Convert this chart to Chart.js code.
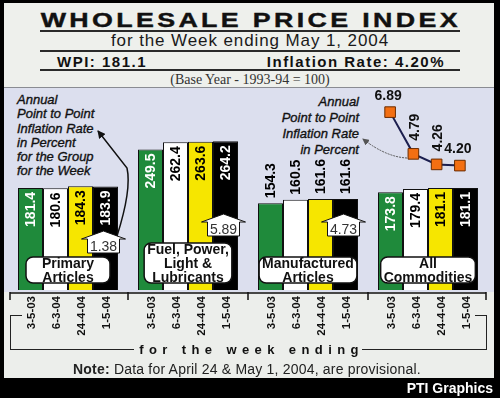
<!DOCTYPE html>
<html>
<head>
<meta charset="utf-8">
<script src="https://cdn.jsdelivr.net/npm/chart.js@4.4.1/dist/chart.umd.min.js"></script>
<style>
  body { margin: 0; width: 500px; height: 398px; background: #000; position: relative; overflow: hidden;
         font-family: "Liberation Sans", Arial, sans-serif; color: #111; }
  .abs { position: absolute; }
  #head { left: 4px; top: 3px; width: 490px; height: 84px; background: #eef0ec; border-bottom: 1px solid #8a8c92; }
  #plot { left: 4px; top: 88px; width: 490px; height: 204px; background: #dcdfee; }
  #foot { left: 4px; top: 292px; width: 490px; height: 86px; background: #eceeeb; }
  .rule { position: absolute; left: 40px; width: 420px; height: 2px; background: #2a2a2a; }
  .brk { position: absolute; border: 0 solid #222; }
  .note { font-style: italic; font-size: 13px; color: #111; -webkit-text-stroke: 0.35px #111; }
</style>
</head>
<body>
<div class="abs" id="head"></div>
<div class="abs" id="plot"></div>
<div class="abs" id="foot"></div>

<div class="abs" style="left:0;top:8px;width:500px;text-align:center;font-weight:bold;font-size:20px;line-height:24px;color:#111">
  <span style="display:inline-block;letter-spacing:2.5px;margin-right:-2.5px;transform:scaleX(1.34);-webkit-text-stroke:0.4px #111">WHOLESALE PRICE INDEX</span>
</div>
<div class="rule" style="top:30px"></div>
<div class="abs" style="left:0;top:31px;width:500px;text-align:center;font-size:17px;line-height:20px;letter-spacing:0.9px;color:#1a1a1a">for the Week ending May 1, 2004</div>
<div class="rule" style="top:50px"></div>
<div class="abs" style="left:57px;top:52px;font-weight:bold;font-size:15px;line-height:20px;letter-spacing:1.5px">WPI: 181.1</div>
<div class="abs" style="right:55px;top:52px;font-weight:bold;font-size:15px;line-height:20px;letter-spacing:1.5px">Inflation Rate: 4.20%</div>
<div class="rule" style="top:69px"></div>
<div class="abs" style="left:0;top:72px;width:500px;text-align:center;font-family:'Liberation Serif',serif;font-size:14px;line-height:16px;color:#333">(Base Year - 1993-94 = 100)</div>

<div class="abs note" style="left:17px;top:93px;line-height:14.3px">Annual<br>Point to Point<br>Inflation Rate<br>in Percent<br>for the Group<br>for the Week</div>
<div class="abs note" style="right:141px;top:94px;text-align:right;line-height:16px">Annual<br>Point to Point<br>Inflation Rate<br>in Percent</div>

<canvas id="bars" class="abs" width="500" height="252" style="left:0;top:88px"></canvas>
<canvas id="trend" class="abs" width="110" height="100" style="left:370px;top:88px"></canvas>

<div class="brk" style="left:10px;top:315px;width:12px;height:0;border-top-width:1.5px"></div>
<div class="brk" style="left:10px;top:315px;width:123px;height:34px;border-left-width:1.5px;border-bottom-width:1.5px"></div>
<div class="brk" style="left:362px;top:315px;width:124px;height:34px;border-right-width:1.5px;border-bottom-width:1.5px"></div>
<div class="brk" style="left:475px;top:315px;width:12px;height:0;border-top-width:1.5px"></div>
<div class="abs" style="left:0;top:341px;width:500px;text-align:center;font-weight:bold;font-size:13px;line-height:18px;letter-spacing:5.4px;padding-left:3px;box-sizing:border-box">for the week ending</div>
<div class="abs" style="left:0;top:360px;width:494px;text-align:center;font-size:14px;line-height:18px;letter-spacing:0.2px;color:#222"><b>Note:</b> Data for April 24 &amp; May 1, 2004, are provisional.</div>
<div class="abs" style="right:7px;top:380px;font-weight:bold;font-size:14px;line-height:17px;color:#fff">PTI Graphics</div>

<svg class="abs" width="500" height="398" style="left:0;top:0;pointer-events:none">
  <defs>
    <marker id="ah" markerWidth="8" markerHeight="8" refX="7" refY="4" orient="auto" markerUnits="userSpaceOnUse">
      <path d="M0,0 L8,4 L0,8 z" fill="#111"/>
    </marker>
    <marker id="ah2" markerWidth="7" markerHeight="7" refX="6" refY="3.5" orient="auto" markerUnits="userSpaceOnUse">
      <path d="M0,0 L7,3.5 L0,7 z" fill="#555"/>
    </marker>
  </defs>
  <path d="M117,236 C124,214 131,186 127,168 L98,131" fill="none" stroke="#111" stroke-width="1.5" marker-end="url(#ah)"/>
  <path d="M407,158 Q386,157 363,139" fill="none" stroke="#555" stroke-width="1" stroke-dasharray="2,1" marker-end="url(#ah2)"/>
</svg>

<script>
// groups and weeks
const groupNames = [['Primary', 'Articles'], ['Fuel, Power,', 'Light &', 'Lubricants'], ['Manufactured', 'Articles'], ['All', 'Commodities']];
const weekLabels = ['3-5-03', '6-3-04', '24-4-04', '1-5-04'];

// WPI for each week, by group
const wpiWeek1 = [181.4, 249.5, 154.3, 173.8];
const wpiWeek2 = [180.6, 262.4, 160.5, 179.4];
const wpiWeek3 = [184.3, 263.6, 161.6, 181.1];
const wpiWeek4 = [183.9, 264.2, 161.6, 181.1];

// inflation rates
const groupInflation = [1.38, 5.89, 4.73];
const allInflation = [6.89, 4.79, 4.26, 4.20];

// styling
const barColors = ['#1f8a3b', '#ffffff', '#f6e600', '#000000'];
const valueColors = ['#ffffff', '#000000', '#000000', '#ffffff'];
const inflBoxLift = [44, 61, 61];
const trendRot = [0, -90, -90, 0];
const FONT = '"Liberation Sans", Arial, sans-serif';

function roundRect(ctx, x, y, w, h, r) {
    ctx.beginPath();
    ctx.moveTo(x + r, y);
    ctx.arcTo(x + w, y, x + w, y + h, r);
    ctx.arcTo(x + w, y + h, x, y + h, r);
    ctx.arcTo(x, y + h, x, y, r);
    ctx.arcTo(x, y, x + w, y, r);
    ctx.closePath();
}

const barDecor = {
    id: 'barDecor',
    afterDatasetsDraw(chart) {
        const ctx = chart.ctx;
        const area = chart.chartArea;
        const base = area.bottom;
        const xs = chart.scales.x;
        const half = (area.right - area.left) / groupNames.length / 2;

        // values on the bars
        chart.data.datasets.forEach(function (ds, i) {
            const meta = chart.getDatasetMeta(i);
            meta.data.forEach(function (bar, j) {
                const inside = base - bar.y > 95;
                ctx.save();
                ctx.translate(bar.x, inside ? bar.y + 4 : bar.y - 5);
                ctx.rotate(-Math.PI / 2);
                ctx.font = 'bold 14px ' + FONT;
                ctx.fillStyle = inside ? valueColors[i] : '#000';
                ctx.textBaseline = 'middle';
                ctx.textAlign = inside ? 'right' : 'left';
                ctx.fillText(ds.data[j].toFixed(1), 0, 1);
                ctx.restore();

                // week dates under each bar
                ctx.save();
                ctx.translate(bar.x, base + 6);
                ctx.rotate(-Math.PI / 2);
                ctx.font = 'bold 11.5px ' + FONT;
                ctx.fillStyle = '#111';
                ctx.textBaseline = 'middle';
                ctx.textAlign = 'right';
                ctx.fillText(weekLabels[i], 0, 1);
                ctx.restore();
            });
        });

        // inflation arrow boxes
        const black = chart.getDatasetMeta(3).data;
        groupInflation.forEach(function (v, j) {
            const cx = black[j].x - 2;
            const cy = base - inflBoxLift[j];
            const top = cy - 7, bot = cy + 7;
            ctx.save();
            ctx.beginPath();
            ctx.moveTo(cx - 16, bot);
            ctx.lineTo(cx - 16, top);
            ctx.lineTo(cx - 22, top);
            ctx.lineTo(cx, top - 8);
            ctx.lineTo(cx + 22, top);
            ctx.lineTo(cx + 16, top);
            ctx.lineTo(cx + 16, bot);
            ctx.closePath();
            ctx.fillStyle = '#fff';
            ctx.fill();
            ctx.strokeStyle = '#111';
            ctx.lineWidth = 1;
            ctx.stroke();
            ctx.font = '14px ' + FONT;
            ctx.fillStyle = '#333';
            ctx.textAlign = 'center';
            ctx.textBaseline = 'middle';
            ctx.fillText(v.toFixed(2), cx, cy + 1);
            ctx.restore();
        });

        // group name boxes
        groupNames.forEach(function (lines, j) {
            const cx = xs.getPixelForValue(j);
            ctx.save();
            ctx.font = 'bold 14px ' + FONT;
            let tw = 0;
            lines.forEach(function (l) { tw = Math.max(tw, ctx.measureText(l).width); });
            const w = Math.max(84, tw + 6);
            const h = lines.length * 14 - 2;
            const bot = base - 7;
            roundRect(ctx, cx - w / 2, bot - h, w, h, 7);
            ctx.fillStyle = '#fff';
            ctx.fill();
            ctx.strokeStyle = '#111';
            ctx.lineWidth = 1.5;
            ctx.stroke();
            ctx.fillStyle = '#111';
            ctx.textAlign = 'center';
            ctx.textBaseline = 'middle';
            lines.forEach(function (l, k) {
                ctx.fillText(l, cx, bot - h + 6 + k * 14 + 1);
            });
            ctx.restore();
        });

        // axis line with group ticks
        ctx.save();
        ctx.strokeStyle = '#111';
        ctx.lineWidth = 1.5;
        ctx.beginPath();
        ctx.moveTo(area.left + 2, base + 3);
        ctx.lineTo(area.right - 2, base + 3);
        for (let j = 0; j <= groupNames.length; j++) {
            let tx = area.left + j * 2 * half;
            if (j === 0) tx += 2;
            if (j === groupNames.length) tx -= 2;
            ctx.moveTo(tx, base + 2);
            ctx.lineTo(tx, base + 10);
        }
        ctx.stroke();
        ctx.restore();
    }
};

new Chart(document.getElementById('bars'), {
    type: 'bar',
    data: {
        labels: groupNames,
        datasets: [wpiWeek1, wpiWeek2, wpiWeek3, wpiWeek4].map(function (d, i) {
            return {
                label: weekLabels[i],
                data: d,
                backgroundColor: barColors[i],
                borderColor: '#111',
                borderWidth: 1,
                categoryPercentage: 100 / 120,
                barPercentage: 1
            };
        })
    },
    options: {
        responsive: false,
        animation: false,
        devicePixelRatio: 1,
        layout: { padding: { left: 8, right: 12, top: 5, bottom: 50 } },
        plugins: { legend: { display: false }, tooltip: { enabled: false } },
        scales: {
            x: { display: false },
            y: { display: false, min: 0, max: 350 }
        }
    },
    plugins: [barDecor]
});

const trendLabels = {
    id: 'trendLabels',
    afterDatasetsDraw(chart) {
        const ctx = chart.ctx;
        const pts = chart.getDatasetMeta(0).data;
        ctx.save();
        ctx.font = 'bold 14px ' + FONT;
        ctx.fillStyle = '#111';
        ctx.textBaseline = 'middle';
        pts.forEach(function (p, i) {
            const txt = allInflation[i].toFixed(2);
            if (trendRot[i]) {
                ctx.save();
                ctx.translate(p.x + 2, p.y - 13);
                ctx.rotate(trendRot[i] * Math.PI / 180);
                ctx.textAlign = 'left';
                ctx.fillText(txt, 0, 0);
                ctx.restore();
            } else {
                ctx.textAlign = 'center';
                ctx.fillText(txt, p.x - 2, p.y - 16);
            }
        });
        ctx.restore();
    }
};

new Chart(document.getElementById('trend'), {
    type: 'line',
    data: {
        labels: weekLabels,
        datasets: [{
            data: allInflation,
            borderColor: '#1c1f4f',
            borderWidth: 2,
            tension: 0,
            pointStyle: 'rect',
            pointRadius: 7.5,
            pointBackgroundColor: '#f36f12',
            pointBorderColor: '#6a2c00',
            pointBorderWidth: 1
        }]
    },
    options: {
        responsive: false,
        animation: false,
        devicePixelRatio: 1,
        layout: { padding: { left: 5, right: 5, top: 12, bottom: 4 } },
        plugins: { legend: { display: false }, tooltip: { enabled: false } },
        scales: {
            x: { type: 'category', display: false, offset: true },
            y: { display: false, min: 3.5, max: 7.5 }
        }
    },
    plugins: [trendLabels]
});
</script>
</body>
</html>
